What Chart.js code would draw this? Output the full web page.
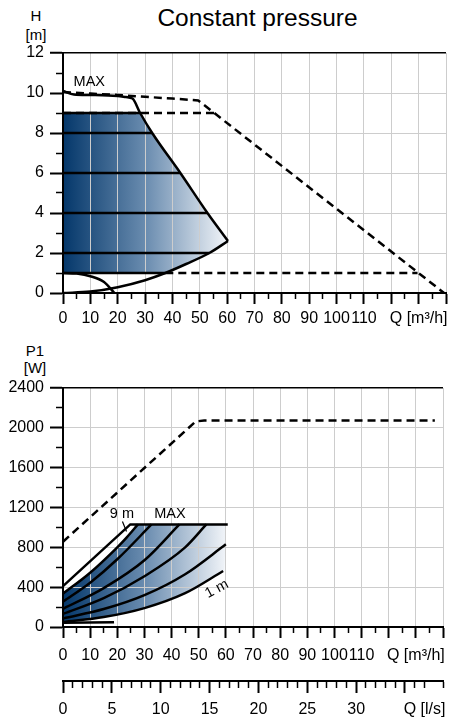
<!DOCTYPE html>
<html lang="en">
<head>
<meta charset="utf-8">
<title>Constant pressure</title>
<script src="https://cdn.jsdelivr.net/npm/chart.js@4.4.1/dist/chart.umd.min.js"></script>
<style>
  html, body { margin:0; padding:0; background:#fff; }
  body { position:relative; width:449px; height:720px; overflow:hidden;
         font-family:"Liberation Sans", Arial, sans-serif; color:#000; }
  canvas { position:absolute; left:0; }
  #headChart { top:0; }
  #powerChart { top:335px; }
  .txt { position:absolute; line-height:1; white-space:nowrap; text-align:center; }
</style>
</head>
<body>
<div class="txt" style="left:107px;width:301px;top:6px;font-size:24.5px;">Constant pressure</div>
<div class="txt" style="left:16px;width:40px;top:8px;font-size:15px;">H</div>
<div class="txt" style="left:16px;width:40px;top:27px;font-size:15px;">[m]</div>
<div class="txt" style="left:15px;width:40px;top:343px;font-size:15px;">P1</div>
<div class="txt" style="left:15px;width:40px;top:360px;font-size:15px;">[W]</div>
<canvas id="headChart" width="451" height="335"></canvas>
<canvas id="powerChart" width="451" height="385"></canvas>
<script>
// ---- flow axes ----
const flowMax = 140;                 // m³/h
const flowMaxLs = 38.89;             // same span in l/s
const flowTickLabels = [0, 10, 20, 30, 40, 50, 60, 70, 80, 90, 100, 110];
const flowUnitLabel = 'Q [m³/h]';
const flowUnitAt = 130;
const lsTickLabels = [0, 5, 10, 15, 20, 25, 30];
const lsUnitLabel = 'Q [l/s]';
const lsUnitAt = 37;

// ---- head diagram, H [m] vs Q [m³/h] ----
const headTickLabels = [0, 2, 4, 6, 8, 10, 12];
const headMaxCurve   = [[0,10.1],[4,9.93],[10,9.9],[20,9.85],[23,9.8],[25.4,9.72],[28.2,9],[32.6,8],[42.9,6],[52.8,4],[60.3,2.6]];
const headMaxDashed  = [[0,10.05],[10,9.97],[20,9.9],[30,9.81],[40,9.72],[49.4,9.63],[139.3,0]];
const head9Dashed    = [[0,9],[55.2,9]];
const head1Dashed    = [[37.4,1],[129.6,1]];
const headLevels     = [9, 8, 6, 4, 2, 1];
const headLevelEnds  = [28.2, 32.6, 42.9, 52.8, 53.5, 37.4];
const headSystem     = [[0,0],[10,0.07],[20,0.29],[30,0.64],[37.4,1],[45,1.45],[53.5,2],[60.3,2.6]];
const headMinCurve   = [[0,1],[5,0.97],[10,0.84],[15,0.55],[18.8,0]];

// ---- power diagram, P1 [W] vs Q [m³/h] ----
const powerTickLabels = [0, 400, 800, 1200, 1600, 2000, 2400];
const powerMaxDashed = [[0,856],[48.9,2064],[52,2074],[137,2074]];
const powerMax       = [[0,410],[24.8,1030],[60.7,1030]];
const power9m        = [[0,335],[10,545],[20,800],[23.5,900],[27.6,1030]];
const power8m        = [[0,255],[10,445],[20,680],[32.6,1030]];
const power6m        = [[0,182],[15,390],[30,670],[42.9,1030]];
const power4m        = [[0,132],[15,290],[30,510],[45,800],[52.8,1030]];
const power2m        = [[0,86],[15,180],[30,320],[45,530],[60,830]];
const power1m        = [[0,50],[15,100],[30,190],[45,340],[59,562]];
const powerMin       = [[0,42],[18.8,48]];
const power9mLeader  = [[21.9,1060],[23.4,960]];

// operating zones (gradient areas)
const headZone  = [[0,9], ...headMaxCurve.filter(p => p[1] <= 9),
                   ...headSystem.filter(p => p[1] >= 1).reverse(), [0,1]];
const powerZone = [...power9m, [60,1030], [59.5,562], ...power1m.slice().reverse()];

const FONT = { family: '"Liberation Sans", Arial, sans-serif', size: 16 };
const GRID = '#cdcdcd';

function line(points, extra) {
  return Object.assign({
    data: points.map(([x, y]) => ({ x, y })),
    showLine: true, pointRadius: 0, pointHoverRadius: 0,
    borderColor: '#000', borderWidth: 2.5, fill: false, tension: 0
  }, extra || {});
}
const curved = { cubicInterpolationMode: 'monotone' };
const dashed = { borderDash: [8, 5] };

function zoneFill(points, gradEnd) {
  return {
    id: 'zoneFill',
    beforeDraw(chart) {
      const { ctx, scales: { x, y } } = chart;
      const g = ctx.createLinearGradient(x.getPixelForValue(0), 0, x.getPixelForValue(gradEnd), 0);
      g.addColorStop(0, '#04376a');
      g.addColorStop(0.5, '#6b8db0');
      g.addColorStop(1, '#f6f8fb');
      ctx.save();
      ctx.beginPath();
      points.forEach(([q, v], i) => {
        const px = x.getPixelForValue(q), py = y.getPixelForValue(v);
        if (i) ctx.lineTo(px, py); else ctx.moveTo(px, py);
      });
      ctx.closePath();
      ctx.fillStyle = g;
      ctx.fill();
      ctx.restore();
    }
  };
}

function notes(items) {
  return {
    id: 'notes',
    afterDatasetsDraw(chart) {
      const { ctx, scales: { x, y } } = chart;
      items.forEach(n => {
        ctx.save();
        ctx.font = '14.5px "Liberation Sans", Arial, sans-serif';
        ctx.fillStyle = '#000';
        ctx.textAlign = 'center';
        ctx.textBaseline = 'middle';
        ctx.translate(x.getPixelForValue(n.x), y.getPixelForValue(n.y));
        if (n.rot) ctx.rotate(n.rot * Math.PI / 180);
        ctx.fillText(n.text, 0, 0);
        ctx.restore();
      });
    }
  };
}

function flowScale(height, pad) {
  return {
    type: 'linear', position: 'bottom', min: 0, max: flowMax, weight: 0,
    afterFit: s => { s.height = height; },
    border: { color: '#000', width: 2 },
    grid: {
      color: c => (c.tick && c.tick.value % 10 === 0) ? GRID : 'rgba(0,0,0,0)',
      lineWidth: 1,
      tickLength: 11, tickColor: '#000',
      tickWidth: c => (c.tick && c.tick.value % 10 === 0) ? 2 : 1.5,
      tickBorderDash: c => (c.tick && c.tick.value % 10 === 0) ? [] : [5, 100]
    },
    ticks: {
      stepSize: 5, autoSkip: false, maxRotation: 0, minRotation: 0, padding: pad,
      color: '#000', font: FONT,
      callback: v => flowTickLabels.includes(v) ? String(v) : (v === flowUnitAt ? flowUnitLabel : '')
    }
  };
}

function valueScale(max, step, major, labels) {
  return {
    type: 'linear', position: 'left', min: 0, max: max,
    afterFit: s => { s.width = 63; },
    border: { color: '#000', width: 2 },
    grid: {
      color: c => !c.tick ? GRID : (c.tick.value === max ? '#000' : (c.tick.value % major === 0 ? GRID : 'rgba(0,0,0,0)')),
      lineWidth: c => (c.tick && c.tick.value === max) ? 1.5 : 1,
      tickLength: 13, tickColor: '#000',
      tickWidth: c => (c.tick && c.tick.value % major === 0) ? 2 : 1.5,
      tickBorderDash: c => (c.tick && c.tick.value % major === 0) ? [] : [0, 6, 6, 100]
    },
    ticks: {
      stepSize: step, autoSkip: false, padding: 6, color: '#000', font: FONT,
      callback: v => labels.includes(v) ? String(v) : ''
    }
  };
}

Chart.defaults.font.family = FONT.family;

// ---- head chart ----
const headSets = [
  line(headMaxDashed, dashed),
  line(head9Dashed, dashed),
  line(head1Dashed, dashed),
  ...headLevels.map((h, i) => line([[0, h], [headLevelEnds[i], h]])),
  line(headSystem, curved),
  line(headMinCurve, curved),
  line(headMaxCurve, curved)
];

new Chart(document.getElementById('headChart'), {
  type: 'scatter',
  data: { datasets: headSets },
  options: {
    responsive: false, animation: false, events: [],
    layout: { padding: { top: 53, left: 0, right: 0, bottom: 0 } },
    plugins: { legend: { display: false }, tooltip: { enabled: false } },
    scales: {
      x: flowScale(42, 5),
      y: valueScale(12, 1, 2, headTickLabels)
    }
  },
  plugins: [zoneFill(headZone, 61), notes([{ text: 'MAX', x: 9.6, y: 10.55 }])]
});

// ---- power chart ----
const powerSets = [
  line(powerMaxDashed, dashed),
  line(powerMax),
  line(power9m, curved),
  line(power8m, curved),
  line(power6m, curved),
  line(power4m, curved),
  line(power2m, curved),
  line(power1m, curved),
  line(powerMin),
  line(power9mLeader, { borderWidth: 1.2 })
];

const lsScale = {
  type: 'linear', position: 'bottom', min: 0, max: flowMaxLs, weight: 1,
  afterFit: s => { s.height = 39; },
  border: { color: '#000', width: 2 },
  grid: {
    drawOnChartArea: false,
    tickLength: 12, tickColor: '#000',
    tickWidth: c => (c.tick && c.tick.value % 5 === 0) ? 2 : 1.5,
    tickBorderDash: c => (c.tick && c.tick.value % 5 === 0) ? [] : [6, 100]
  },
  ticks: {
    stepSize: 1, autoSkip: false, maxRotation: 0, minRotation: 0, padding: 7,
    color: '#000', font: FONT,
    callback: v => lsTickLabels.includes(v) ? String(v) : (v === lsUnitAt ? lsUnitLabel : '')
  }
};

new Chart(document.getElementById('powerChart'), {
  type: 'scatter',
  data: { datasets: powerSets },
  options: {
    responsive: false, animation: false, events: [],
    layout: { padding: { top: 53, left: 0, right: 0, bottom: 0 } },
    plugins: { legend: { display: false }, tooltip: { enabled: false } },
    scales: {
      x: flowScale(54, 8),
      xl: lsScale,
      y: valueScale(2400, 200, 400, powerTickLabels)
    }
  },
  plugins: [zoneFill(powerZone, 61), notes([
    { text: '9 m', x: 21.7, y: 1131 },
    { text: 'MAX', x: 39.4, y: 1137 },
    { text: '1 m', x: 56.7, y: 381, rot: -28 }
  ])]
});
</script>
</body>
</html>
